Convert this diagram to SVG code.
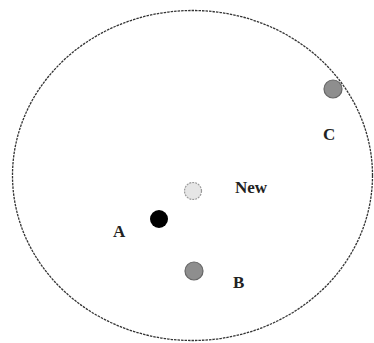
<svg xmlns="http://www.w3.org/2000/svg" width="374" height="343" viewBox="0 0 374 343">
<style>
.lbl{font-family:"Liberation Serif","Times New Roman",serif;font-weight:bold;font-size:17px;fill:#222}
.gray{fill:#8e8e8e;stroke:#666;stroke-width:1.2}
</style>
<rect width="374" height="343" fill="#fff"/>
<g id="region">
<ellipse cx="192.5" cy="175.5" rx="180" ry="165" fill="none" stroke="#333" stroke-width="1.3" stroke-dasharray="2.5 1"/>
</g>
<g id="new">
<circle cx="193" cy="191" r="8.5" fill="#e6e6e6" stroke="#999" stroke-width="1.2" stroke-dasharray="2 1"/>
<text class="lbl" x="235" y="193">New</text>
</g>
<g id="A">
<circle cx="159" cy="219" r="9" fill="#000"/>
<text class="lbl" x="113" y="237">A</text>
</g>
<g id="B">
<circle class="gray" cx="194" cy="271" r="9"/>
<text class="lbl" x="233" y="288">B</text>
</g>
<g id="C">
<circle class="gray" cx="333" cy="89" r="9"/>
<text class="lbl" x="323" y="140">C</text>
</g>
</svg>
